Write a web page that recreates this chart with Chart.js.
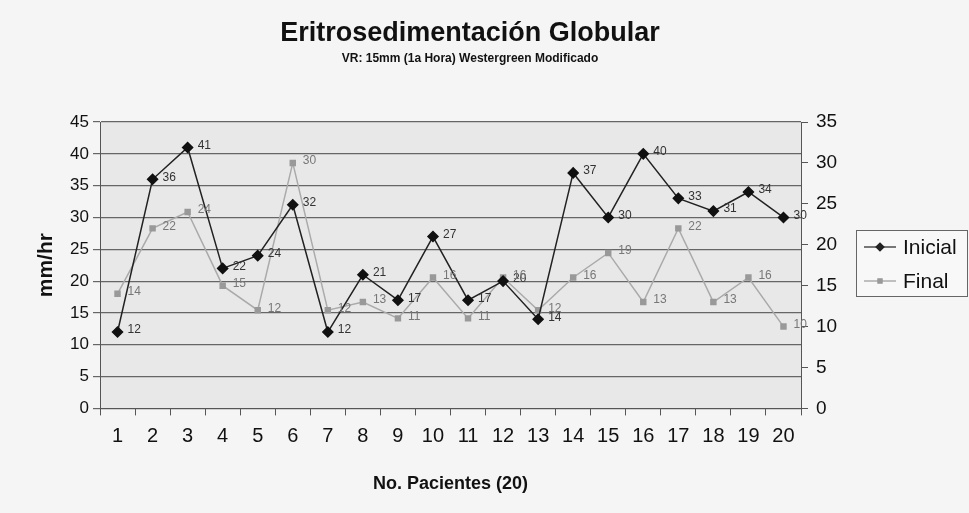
<!DOCTYPE html>
<html lang="es">
<head>
  <meta charset="UTF-8">
  <title>Eritrosedimentación Globular</title>
  <script src="https://cdn.jsdelivr.net/npm/chart.js"></script>
  <style>
    body {
      margin: 0;
      background-color: #f5f5f5;
    }
    #chartBox {
      width: 969px;
      height: 513px;
    }
  </style>
</head>
<body>
  <div id="chartBox">
    <canvas id="vsgChart"></canvas>
  </div>

  <script>
    // datos
    const pacientes = ["1", "2", "3", "4", "5", "6", "7", "8", "9", "10",
                       "11", "12", "13", "14", "15", "16", "17", "18", "19", "20"];
    const inicial = [12, 36, 41, 22, 24, 32, 12, 21, 17, 27, 17, 20, 14, 37, 30, 40, 33, 31, 34, 30];
    const final = [14, 22, 24, 15, 12, 30, 12, 13, 11, 16, 11, 16, 12, 16, 19, 13, 22, 13, 16, 10];
    const leftTicks = [0, 45, 5];   // min, max, paso
    const rightTicks = [0, 35, 5];

    const titulo = "Eritrosedimentación Globular";
    const subtitulo = "VR: 15mm (1a Hora) Westergreen Modificado";

    const fondoPlugin = {
      id: "fondo",
      beforeDraw(chart) {
        const ctx = chart.ctx;
        const a = chart.chartArea;
        ctx.save();
        ctx.fillStyle = "#e8e8e8";
        ctx.fillRect(a.left, a.top, a.right - a.left, a.bottom - a.top);
        ctx.restore();
      }
    };

    const textosPlugin = {
      id: "textos",
      afterDraw(chart) {
        const ctx = chart.ctx;
        ctx.save();
        ctx.fillStyle = "#111";
        ctx.textAlign = "center";
        ctx.textBaseline = "middle";
        ctx.font = "bold 27px 'Liberation Sans', Arial, sans-serif";
        ctx.fillText(titulo, 470, 34);
        ctx.font = "bold 12px 'Liberation Sans', Arial, sans-serif";
        ctx.fillText(subtitulo, 470, 59);

        // etiquetas de valores
        ctx.font = "12px 'Liberation Sans', Arial, sans-serif";
        ctx.textAlign = "left";
        chart.data.datasets.forEach(function(ds, i) {
          const meta = chart.getDatasetMeta(i);
          ctx.fillStyle = i === 0 ? "#333" : "#777";
          meta.data.forEach(function(pt, j) {
            ctx.fillText(ds.data[j], pt.x + 10, pt.y - 2);
          });
        });

        // leyenda
        const lx = 856, ly = 230, lw = 112, lh = 67;
        ctx.fillStyle = "#f8f8f8";
        ctx.fillRect(lx, ly, lw, lh);
        ctx.strokeStyle = "#666";
        ctx.lineWidth = 1;
        ctx.strokeRect(lx + 0.5, ly + 0.5, lw - 1, lh - 1);
        const items = [
          { t: "Inicial", c: "#222", y: 247, s: "rectRot", r: 4 },
          { t: "Final", c: "#999", y: 281, s: "rect", r: 3 }
        ];
        items.forEach(function(it) {
          ctx.strokeStyle = it.c;
          ctx.lineWidth = 1.2;
          ctx.beginPath();
          ctx.moveTo(864, it.y);
          ctx.lineTo(896, it.y);
          ctx.stroke();
          ctx.fillStyle = it.c;
          Chart.helpers.drawPoint(ctx, { pointStyle: it.s, radius: it.r, borderWidth: 1 }, 880, it.y);
          ctx.fillStyle = "#111";
          ctx.font = "21px 'Liberation Sans', Arial, sans-serif";
          ctx.textBaseline = "middle";
          ctx.fillText(it.t, 903, it.y + 1);
        });
        ctx.restore();
      }
    };

    new Chart(document.getElementById("vsgChart"), {
      type: "line",
      data: {
        labels: pacientes,
        datasets: [{
          label: "Inicial",
          data: inicial,
          yAxisID: "y",
          borderColor: "#222",
          backgroundColor: "#111",
          borderWidth: 1.5,
          pointStyle: "rectRot",
          pointRadius: 5,
          pointBorderColor: "#111",
          tension: 0
        }, {
          label: "Final",
          data: final,
          yAxisID: "y1",
          borderColor: "#aaa",
          backgroundColor: "#999",
          borderWidth: 1.5,
          pointStyle: "rect",
          pointRadius: 3.5,
          pointBorderColor: "#999",
          tension: 0
        }]
      },
      options: {
        responsive: true,
        maintainAspectRatio: false,
        animation: false,
        layout: {
          padding: { top: 122, left: 20, right: 123, bottom: 14 }
        },
        plugins: {
          legend: { display: false },
          tooltip: { enabled: false }
        },
        scales: {
          x: {
            offset: true,
            grid: {
              offset: true,
              drawOnChartArea: false,
              color: "#555",
              tickLength: 7
            },
            border: { color: "#555" },
            ticks: {
              color: "#111",
              font: { size: 20, family: "'Liberation Sans', Arial, sans-serif" },
              maxRotation: 0,
              autoSkip: false,
              padding: 9
            },
            title: {
              display: true,
              text: "No. Pacientes (20)",
              color: "#111",
              font: { size: 18, weight: "bold", family: "'Liberation Sans', Arial, sans-serif" },
              padding: { top: 16 }
            }
          },
          y: {
            position: "left",
            min: leftTicks[0],
            max: leftTicks[1],
            ticks: {
              stepSize: leftTicks[2],
              color: "#111",
              font: { size: 17, family: "'Liberation Sans', Arial, sans-serif" },
              padding: 4
            },
            grid: {
              color: "#666",
              lineWidth: 1.2,
              tickLength: 7
            },
            border: { color: "#555" },
            title: {
              display: true,
              text: "mm/hr",
              color: "#111",
              font: { size: 21, weight: "bold", family: "'Liberation Sans', Arial, sans-serif" },
              padding: { top: 14, bottom: 0 }
            },
            afterFit(scale) { scale.width = 80; }
          },
          y1: {
            position: "right",
            min: rightTicks[0],
            max: rightTicks[1],
            ticks: {
              stepSize: rightTicks[2],
              color: "#111",
              font: { size: 19, family: "'Liberation Sans', Arial, sans-serif" },
              padding: 8
            },
            grid: {
              drawOnChartArea: false,
              color: "#555",
              tickLength: 7
            },
            border: { color: "#555" },
            afterFit(scale) { scale.width = 45; }
          }
        }
      },
      plugins: [fondoPlugin, textosPlugin]
    });
  </script>
</body>
</html>
